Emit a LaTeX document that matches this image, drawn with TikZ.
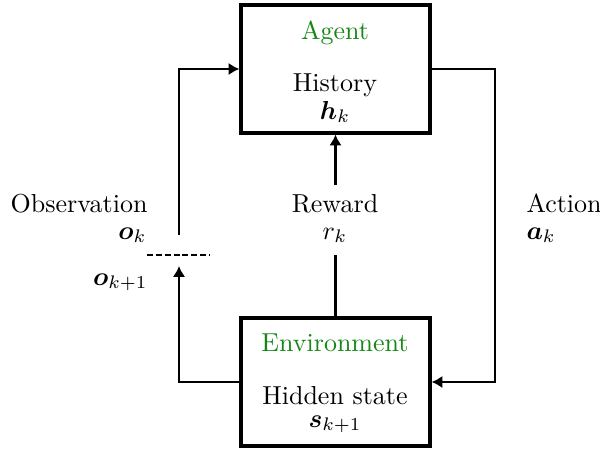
\documentclass[tikz,border=0pt]{standalone}
\usepackage{bm}
\usetikzlibrary{arrows.meta}
\definecolor{labelgreen}{RGB}{20,135,20}
\begin{document}
\begin{tikzpicture}[x=0.3846pt,y=-0.3846pt,
  block/.style={draw,line width=1.2pt,rectangle,minimum width=72.7pt,minimum height=49.2pt,inner sep=0pt},
  conn/.style={line width=0.8pt},
  tip/.style={-{Latex[length=4.2pt,width=4.8pt]}},
  txt/.style={inner sep=0pt,anchor=base}]
\useasboundingbox (0,0) rectangle (600,449);

% boxes
\node[block] (agent) at (335.5,69) {};
\node[block] (env) at (335.5,382) {};

% box contents
\node[txt,text=labelgreen] (agname) at (335,39) {Agent};
\node[txt] (hist) at (335,91) {History};
\node[txt] (hk) at (335,119) {$\bm{h}_k$};
\node[txt,text=labelgreen] (envname) at (335,351) {Environment};
\node[txt] (hid) at (335,404) {Hidden state};
\node[txt] (sk) at (335,427) {$\bm{s}_{k+1}$};

% reward
\node[txt] (rew) at (335,212) {Reward};
\node[txt] (rk) at (335,239) {$r_k$};
\coordinate (rwtop) at (335.5,185);
\coordinate (rwbot) at (335.5,255);
\draw[conn,tip] (rwtop) -- (agent.south);
\draw[conn] (env.north) -- (rwbot);

% action
\node[txt,anchor=base west] (act) at (526,212) {Action};
\node[txt,anchor=base west] (ak) at (526,239) {$\bm{a}_k$};
\draw[conn,tip] (agent.east) -- ++(63,0) |- (env.east);

% observation
\node[txt,anchor=base east] (obs) at (148,212) {Observation};
\node[txt,anchor=base east] (ok) at (147,239) {$\bm{o}_k$};
\node[txt,anchor=base east] (okk) at (148,285) {$\bm{o}_{k+1}$};
\coordinate (obtop) at (179,235);
\coordinate (obbot) at (179,266);
\coordinate (dl) at (147,255);
\coordinate (dr) at (209,255);
\draw[conn,tip] (obtop) |- (agent.west);
\draw[conn,tip] (env.west) -| (obbot);
\draw[conn,dash pattern=on 2.3pt off 1.1pt] (dl) -- (dr);
\end{tikzpicture}
\end{document}
